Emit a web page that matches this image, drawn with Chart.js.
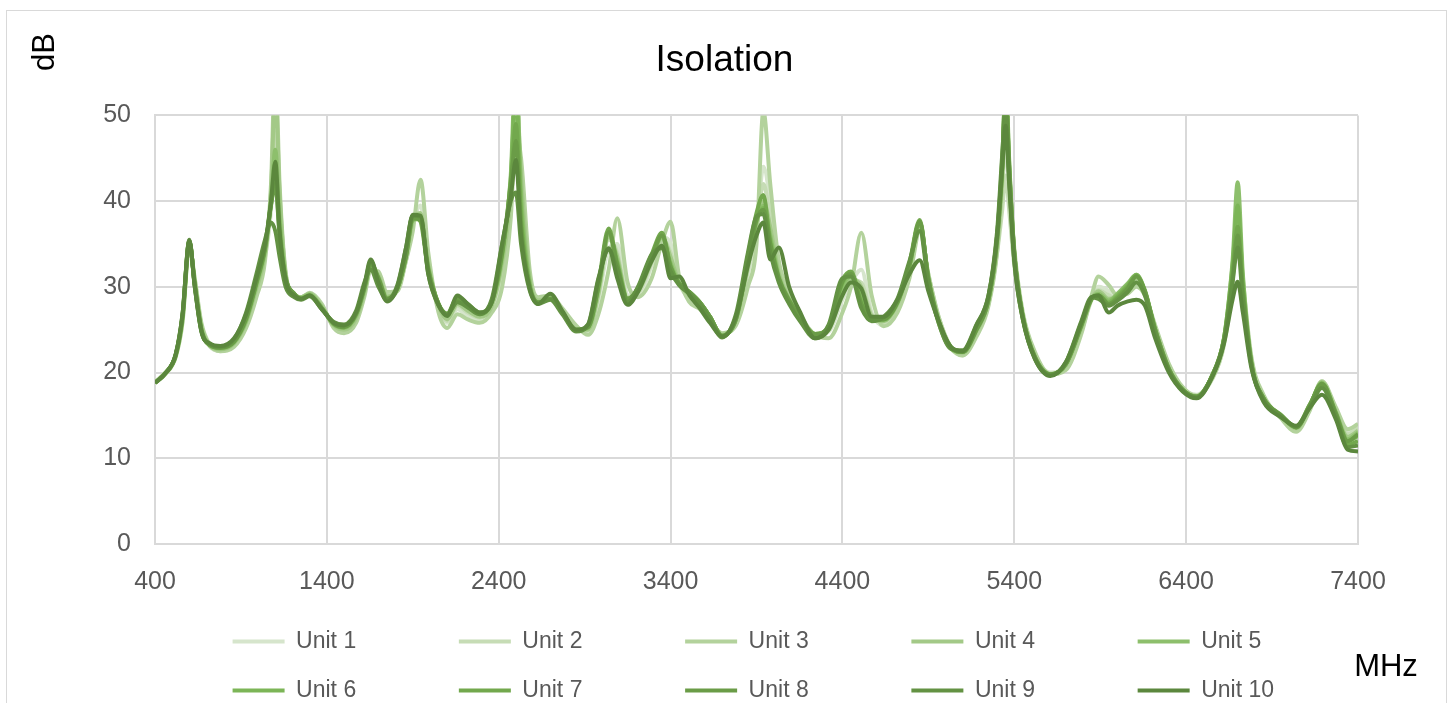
<!DOCTYPE html>
<html>
<head>
<meta charset="utf-8">
<title>Isolation</title>
<script src="https://cdn.jsdelivr.net/npm/chart.js@4.4.1/dist/chart.umd.min.js"></script>
<style>
  html, body { margin: 0; padding: 0; background: #fff; }
  canvas { display: block; }
</style>
</head>
<body>
<canvas id="chart-isolation" width="1449" height="703"></canvas>
<script>
// frequency points (MHz), shared by every unit
var freqs = [
    400, 460, 520, 560, 600, 630, 670, 720, 780, 860,
    930, 990, 1040, 1075, 1100, 1125, 1160, 1210, 1250, 1300,
    1370, 1440, 1500, 1570, 1620, 1655, 1700, 1750, 1810, 1860,
    1900, 1945, 1990, 2050, 2100, 2160, 2220, 2290, 2360, 2420,
    2470, 2500, 2530, 2580, 2630, 2700, 2770, 2850, 2920, 2980,
    3040, 3090, 3150, 3210, 3290, 3350, 3400, 3450, 3510, 3570,
    3630, 3700, 3780, 3850, 3900, 3940, 3980, 4030, 4090, 4160,
    4240, 4320, 4400, 4450, 4510, 4570, 4640, 4720, 4790, 4850,
    4900, 4960, 5030, 5100, 5180, 5250, 5300, 5330, 5350, 5370,
    5400, 5450, 5520, 5610, 5700, 5790, 5850, 5890, 5950, 6000,
    6060, 6110, 6160, 6220, 6300, 6380, 6460, 6550, 6620, 6670,
    6700, 6730, 6780, 6850, 6950, 7040, 7120, 7190, 7270, 7340,
    7400
];

var unitNames = ['Unit 1', 'Unit 2', 'Unit 3', 'Unit 4', 'Unit 5', 'Unit 6', 'Unit 7', 'Unit 8', 'Unit 9', 'Unit 10'];
var xTicks = [400, 1400, 2400, 3400, 4400, 5400, 6400, 7400];

// isolation in dB, one array per unit
var unit1 = [
    18.9, 20.0, 22.0, 26.2, 35.0, 30.8, 25.3, 23.0, 22.5, 23.2,
    25.6, 29.5, 33.5, 39.0, 49.0, 40.0, 31.5, 29.0, 28.8, 29.2,
    27.8, 25.4, 24.8, 26.2, 29.4, 32.2, 31.5, 29.0, 29.6, 33.0,
    37.2, 39.5, 33.0, 27.5, 25.8, 27.4, 26.6, 26.2, 27.5, 31.5,
    39.0, 52.0, 42.0, 31.0, 28.5, 28.8, 27.3, 25.4, 24.8, 28.5,
    34.5, 35.0, 29.0, 29.0, 32.5, 35.8, 35.0, 30.5, 28.6, 27.8,
    26.0, 24.6, 25.8, 31.5, 36.5, 44.0, 40.0, 32.0, 29.0, 26.5,
    24.5, 24.8, 28.5, 30.5, 32.0, 27.0, 25.5, 27.8, 31.8, 36.8,
    31.5, 26.5, 23.0, 22.0, 24.5, 28.0, 34.5, 41.0, 47.0, 41.0,
    33.5, 26.5, 22.0, 20.0, 20.5, 24.8, 28.5, 30.0, 29.5, 28.5,
    29.5, 30.5, 29.2, 25.2, 20.8, 18.2, 17.4, 19.4, 23.5, 31.0,
    37.0, 30.0, 21.5, 17.2, 14.8, 13.3, 15.8, 18.8, 15.8, 13.0,
    13.8
];
var unit2 = [
    18.8, 19.8, 21.8, 26.0, 34.8, 31.0, 25.5, 23.1, 22.6, 23.3,
    25.8, 29.8, 34.0, 40.0, 48.0, 39.0, 31.2, 29.2, 28.7, 29.1,
    27.6, 25.5, 25.0, 26.4, 29.6, 32.4, 31.2, 28.8, 29.5, 33.2,
    37.5, 38.5, 32.5, 27.6, 26.0, 27.8, 27.0, 26.4, 27.8, 32.5,
    40.0, 50.0, 40.0, 30.5, 28.3, 28.7, 27.2, 25.2, 24.9, 29.0,
    35.5, 34.0, 28.8, 29.2, 32.8, 35.6, 34.0, 30.6, 28.8, 27.9,
    26.2, 24.4, 26.0, 32.0, 37.0, 42.0, 38.0, 31.8, 28.8, 26.4,
    24.4, 25.0, 29.0, 30.8, 30.5, 26.8, 25.8, 27.9, 32.0, 37.0,
    31.2, 26.2, 22.8, 22.2, 24.6, 28.2, 34.0, 39.0, 43.0, 39.0,
    32.5, 26.2, 22.0, 19.9, 20.6, 25.0, 28.6, 29.6, 29.0, 28.6,
    29.6, 30.8, 29.3, 25.0, 20.6, 18.1, 17.3, 19.5, 23.6, 31.5,
    38.0, 30.0, 21.3, 17.1, 14.9, 13.4, 16.0, 19.0, 15.6, 12.8,
    13.6
];
var unit3 = [
    18.9, 20.0, 21.8, 25.8, 34.8, 31.2, 25.8, 23.2, 22.5, 23.0,
    25.2, 28.8, 33.0, 42.0, 56.0, 42.0, 31.8, 29.0, 28.8, 29.3,
    28.0, 25.2, 24.6, 25.8, 29.0, 32.0, 31.8, 29.4, 29.5, 33.0,
    36.5, 42.5, 34.0, 27.0, 25.2, 26.8, 26.2, 25.8, 27.0, 30.0,
    38.0, 48.0, 45.0, 32.0, 28.8, 29.0, 27.5, 25.5, 24.4, 26.8,
    32.0, 38.0, 30.5, 28.8, 31.0, 35.2, 37.6, 31.2, 28.2, 27.4,
    25.8, 24.6, 25.5, 30.0, 35.0, 50.5, 42.0, 33.0, 29.5, 26.5,
    24.4, 24.0, 27.0, 30.0, 36.3, 29.0, 25.4, 27.0, 31.0, 36.4,
    31.5, 26.5, 23.0, 22.0, 24.2, 27.8, 34.0, 42.0, 50.0, 43.0,
    34.5, 27.0, 22.4, 19.8, 20.3, 24.5, 29.0, 31.2, 30.2, 29.0,
    29.2, 30.0, 29.0, 25.5, 21.0, 18.3, 17.3, 19.2, 23.2, 30.5,
    38.5, 31.0, 21.8, 17.4, 14.7, 13.1, 15.6, 19.0, 16.0, 13.4,
    14.0
];
var unit4 = [
    18.8, 19.9, 21.9, 26.2, 35.0, 30.8, 25.4, 23.1, 22.7, 23.4,
    25.9, 29.8, 33.8, 41.0, 53.0, 41.0, 31.5, 29.1, 28.8, 29.2,
    27.7, 25.5, 25.0, 26.3, 29.5, 32.3, 31.3, 28.9, 29.7, 33.4,
    37.6, 38.6, 32.6, 27.8, 26.2, 28.0, 27.2, 26.5, 27.8, 32.8,
    41.0, 54.0, 43.0, 31.0, 28.4, 28.7, 27.1, 25.1, 25.0, 29.2,
    35.8, 33.5, 28.6, 29.4, 33.0, 35.8, 33.5, 30.5, 29.0, 28.0,
    26.3, 24.4, 26.1, 32.3, 37.4, 40.0, 37.0, 31.6, 28.6, 26.3,
    24.5, 25.0, 29.5, 31.0, 30.0, 26.6, 26.0, 28.0, 32.2, 37.2,
    31.1, 26.1, 22.9, 22.3, 24.8, 28.3, 35.0, 43.0, 52.0, 43.0,
    33.8, 26.4, 21.9, 19.8, 20.8, 25.2, 28.6, 29.5, 28.6, 28.7,
    29.8, 31.0, 29.4, 25.0, 20.5, 18.0, 17.2, 19.5, 23.7, 31.5,
    38.0, 30.0, 21.2, 17.0, 15.0, 13.5, 16.0, 18.9, 15.5, 12.5,
    13.2
];
var unit5 = [
    18.8, 19.9, 22.0, 26.4, 35.2, 30.6, 25.1, 23.2, 22.8, 23.5,
    26.0, 30.2, 34.2, 40.0, 46.0, 38.0, 31.2, 29.2, 28.7, 29.1,
    27.6, 25.6, 25.2, 26.6, 29.8, 32.5, 31.1, 28.7, 29.8, 33.6,
    37.8, 38.0, 32.3, 28.0, 26.6, 28.4, 27.6, 26.8, 28.2, 33.5,
    43.0, 56.0, 41.0, 30.5, 28.2, 28.6, 27.0, 25.0, 25.2, 29.8,
    36.2, 33.0, 28.6, 29.6, 33.3, 35.8, 32.8, 30.4, 29.3, 28.2,
    26.5, 24.3, 26.2, 32.8, 37.6, 39.5, 36.0, 31.2, 28.5, 26.2,
    24.5, 25.2, 30.0, 31.2, 29.0, 26.4, 26.1, 28.1, 32.4, 37.4,
    31.0, 26.0, 23.0, 22.4, 25.0, 28.5, 35.5, 44.0, 55.0, 45.0,
    34.0, 26.5, 21.8, 19.8, 21.0, 25.4, 28.6, 29.2, 28.4, 29.2,
    30.4, 31.4, 29.6, 25.0, 20.4, 18.0, 17.2, 19.6, 24.0, 33.0,
    42.2, 31.5, 21.2, 17.0, 15.0, 13.6, 16.2, 18.8, 15.4, 12.2,
    13.0
];
var unit6 = [
    18.8, 19.9, 22.0, 26.5, 35.3, 30.5, 25.0, 23.2, 22.9, 23.6,
    26.2, 30.4, 34.4, 39.8, 43.5, 37.0, 31.0, 29.2, 28.6, 29.0,
    27.5, 25.7, 25.3, 26.8, 30.0, 32.8, 31.0, 28.6, 29.8, 33.5,
    37.9, 37.8, 32.1, 28.0, 26.8, 28.6, 27.8, 26.9, 28.3, 33.8,
    42.5, 53.0, 39.0, 30.2, 28.2, 28.6, 27.0, 25.0, 25.3, 30.0,
    36.4, 32.8, 28.6, 29.8, 33.5, 36.0, 32.5, 30.4, 29.4, 28.2,
    26.5, 24.3, 26.2, 33.0, 37.8, 39.2, 35.5, 31.0, 28.4, 26.2,
    24.5, 25.3, 30.4, 31.5, 28.4, 26.3, 26.2, 28.2, 32.5, 37.6,
    31.0, 26.0, 23.0, 22.4, 25.0, 28.5, 35.5, 44.0, 54.0, 44.5,
    34.0, 26.5, 21.8, 19.8, 21.0, 25.5, 28.6, 29.0, 28.2, 29.0,
    30.2, 31.4, 29.5, 25.0, 20.4, 18.0, 17.2, 19.6, 24.0, 32.5,
    39.5, 30.5, 21.0, 17.0, 15.0, 13.6, 16.2, 18.7, 15.3, 12.0,
    12.6
];
var unit7 = [
    18.8, 19.9, 22.0, 26.6, 35.4, 30.4, 24.9, 23.2, 22.9, 23.7,
    26.4, 30.6, 34.6, 39.6, 42.5, 36.2, 31.0, 29.2, 28.6, 29.0,
    27.5, 25.8, 25.4, 26.9, 30.2, 33.0, 30.8, 28.4, 29.8, 33.8,
    38.3, 37.6, 31.8, 28.0, 26.9, 28.8, 28.0, 27.0, 28.4, 34.2,
    41.5, 49.0, 37.5, 30.0, 28.1, 28.6, 27.0, 24.9, 25.4, 30.4,
    36.8, 32.4, 28.5, 29.9, 33.8, 36.3, 32.3, 30.3, 29.4, 28.2,
    26.5, 24.2, 26.4, 33.6, 38.6, 40.7, 35.0, 30.8, 28.2, 26.0,
    24.2, 25.4, 30.8, 31.8, 28.0, 26.1, 26.3, 28.3, 32.8, 37.8,
    30.8, 25.8, 22.8, 22.4, 25.2, 28.8, 36.0, 45.0, 53.0, 44.0,
    33.8, 26.4, 21.7, 19.7, 21.0, 25.6, 28.7, 29.0, 28.0, 28.8,
    30.0, 31.3, 29.4, 24.8, 20.3, 17.9, 17.1, 19.6, 23.9, 31.5,
    37.0, 29.8, 21.0, 17.0, 15.1, 13.7, 16.3, 18.6, 15.2, 11.6,
    12.0
];
var unit8 = [
    18.8, 19.9, 22.0, 26.5, 35.3, 30.5, 25.0, 23.2, 22.9, 23.6,
    26.3, 30.5, 34.5, 39.5, 42.0, 36.0, 31.0, 29.2, 28.6, 29.0,
    27.5, 25.7, 25.3, 26.8, 30.0, 32.6, 31.0, 28.6, 29.8, 33.5,
    38.0, 37.8, 32.0, 28.0, 26.8, 28.6, 27.8, 26.9, 28.3, 34.0,
    42.0, 47.0, 37.0, 30.0, 28.2, 28.6, 27.0, 25.0, 25.3, 30.0,
    36.4, 32.5, 28.6, 29.8, 33.5, 36.0, 32.3, 30.4, 29.4, 28.2,
    26.5, 24.3, 26.2, 33.0, 37.8, 39.0, 35.0, 31.0, 28.4, 26.2,
    24.5, 25.4, 30.6, 31.5, 28.0, 26.2, 26.2, 28.2, 32.5, 37.6,
    31.0, 26.0, 23.0, 22.4, 25.0, 28.5, 35.5, 44.0, 53.0, 44.0,
    34.0, 26.5, 21.8, 19.8, 21.0, 25.5, 28.6, 29.0, 28.0, 28.6,
    29.8, 31.2, 29.5, 25.0, 20.4, 18.0, 17.2, 19.6, 23.8, 31.0,
    36.0, 29.5, 21.0, 17.0, 15.0, 13.6, 16.2, 18.7, 15.3, 12.0,
    12.8
];
var unit9 = [
    18.8, 19.9, 22.1, 26.8, 35.5, 30.2, 24.8, 23.3, 23.0, 23.9,
    27.0, 31.5, 35.5, 37.5, 36.5, 33.5, 30.0, 28.8, 28.5, 28.9,
    27.4, 25.9, 25.6, 27.2, 30.6, 32.0, 30.0, 28.5, 30.2, 34.5,
    38.3, 38.2, 31.5, 27.8, 26.8, 28.2, 27.6, 26.8, 28.6, 35.0,
    40.0, 41.0, 35.0, 29.6, 28.0, 28.5, 26.8, 24.8, 25.6, 31.0,
    34.3, 32.0, 28.2, 30.0, 33.8, 34.5, 31.8, 30.2, 29.2, 28.0,
    26.2, 24.1, 26.8, 34.0, 38.2, 38.5, 34.0, 30.5, 28.0, 25.8,
    24.0, 25.6, 31.0, 31.2, 27.5, 26.0, 26.5, 28.6, 33.0, 36.5,
    30.5, 25.8, 22.8, 22.6, 25.6, 29.0, 36.5, 45.5, 51.0, 43.0,
    33.0, 26.2, 21.6, 19.7, 21.2, 26.0, 28.8, 28.6, 27.8, 28.4,
    29.4, 30.5, 29.0, 24.6, 20.2, 17.9, 17.1, 19.5, 23.6, 30.5,
    34.6, 28.5, 20.8, 16.8, 15.0, 13.7, 16.0, 18.2, 15.0, 11.3,
    11.5
];
var unit10 = [
    18.8, 19.9, 22.1, 26.8, 35.4, 30.3, 24.8, 23.4, 23.1, 24.0,
    26.8, 31.0, 35.0, 40.0, 44.6, 36.5, 30.8, 29.0, 28.6, 29.0,
    27.4, 25.8, 25.5, 27.0, 30.4, 33.2, 30.5, 28.3, 30.0, 34.5,
    38.4, 38.3, 31.5, 27.9, 26.6, 29.0, 28.0, 27.0, 28.2, 35.0,
    40.5, 44.8, 36.0, 29.8, 28.0, 29.2, 27.2, 25.0, 25.6, 30.8,
    34.5, 31.0, 27.9, 29.4, 33.0, 34.8, 31.0, 31.2, 29.0, 27.5,
    25.8, 24.2, 26.5, 32.5, 36.0, 37.5, 33.2, 34.6, 30.0, 26.8,
    24.0, 25.0, 29.0, 30.5, 29.8, 26.5, 26.5, 28.5, 31.5, 33.1,
    29.5, 26.0, 23.0, 22.5, 25.5, 29.0, 36.0, 44.0, 48.8, 42.0,
    33.0, 26.2, 21.6, 19.6, 21.2, 25.8, 28.8, 29.0, 27.0, 27.8,
    28.3, 28.5, 27.8, 24.0, 20.0, 17.8, 17.0, 19.4, 23.4, 28.5,
    30.6, 27.0, 20.5, 16.6, 14.8, 13.8, 15.9, 17.4, 14.6, 11.0,
    10.8
];

var unitValues = [unit1, unit2, unit3, unit4, unit5, unit6, unit7, unit8, unit9, unit10];
var unitColors = ['#d6e5cc', '#c6dcb5', '#b3d29c', '#a3c987', '#8dbf6c',
                  '#7cb557', '#72a84d', '#6a9c47', '#639243', '#5b873d'];

Chart.defaults.font.family = '"Liberation Sans", Arial, sans-serif';

var datasets = unitNames.map(function(name, i) {
    return {
        label: name,
        data: freqs.map(function(f, k) { return { x: f, y: unitValues[i][k] }; }),
        borderColor: unitColors[i],
        backgroundColor: unitColors[i],
        borderWidth: 4,
        pointRadius: 0,
        pointHoverRadius: 0,
        cubicInterpolationMode: 'monotone',
        order: unitNames.length - 1 - i   // Unit 10 painted last
    };
});

// chart frame and the two axis titles placed like the original
var decorations = {
    id: 'decorations',
    beforeDraw: function(chart) {
        var ctx = chart.ctx;
        ctx.save();
        ctx.strokeStyle = '#d9d9d9';
        ctx.lineWidth = 1;
        ctx.strokeRect(6.5, 10.5, 1440, 700);
        ctx.restore();
    },
    afterDraw: function(chart) {
        var ctx = chart.ctx;
        ctx.save();
        ctx.fillStyle = '#000';
        ctx.font = '31px "Liberation Sans", Arial, sans-serif';
        ctx.textAlign = 'center';
        ctx.textBaseline = 'middle';
        ctx.translate(45, 52);
        ctx.rotate(-Math.PI / 2);
        ctx.fillText('dB', 0, 0);
        ctx.restore();
        ctx.save();
        ctx.fillStyle = '#000';
        ctx.font = '31px "Liberation Sans", Arial, sans-serif';
        ctx.textAlign = 'center';
        ctx.textBaseline = 'middle';
        ctx.fillText('MHz', 1386, 667);
        ctx.restore();
    }
};

var defaultLabels = Chart.defaults.plugins.legend.labels.generateLabels;
var tailSpaces = ['            ', '            ', '            ', '            ', '   ',
                  '            ', '            ', '            ', '            ', ' '];

new Chart(document.getElementById('chart-isolation'), {
    type: 'line',
    data: { datasets: datasets },
    plugins: [decorations],
    options: {
        responsive: false,
        animation: false,
        layout: { padding: 0 },
        plugins: {
            title: {
                display: true,
                text: 'Isolation',
                color: '#000',
                font: { size: 37, weight: 'normal' },
                padding: { top: 39, bottom: 32 }
            },
            legend: {
                position: 'bottom',
                fullSize: false,
                maxHeight: 99,
                labels: {
                    font: { size: 23 },
                    color: '#595959',
                    usePointStyle: true,
                    pointStyle: 'line',
                    pointStyleWidth: 52,
                    padding: 26,
                    sort: function(a, b) { return a.datasetIndex - b.datasetIndex; },
                    generateLabels: function(chart) {
                        return defaultLabels(chart).map(function(item) {
                            item.text = item.text + tailSpaces[item.datasetIndex];
                            return item;
                        });
                    }
                }
            },
            tooltip: { enabled: false }
        },
        scales: {
            x: {
                type: 'linear',
                min: 400,
                max: 7400,
                afterBuildTicks: function(scale) {
                    scale.ticks = xTicks.map(function(v) { return { value: v }; });
                },
                afterFit: function(scale) {
                    scale.height = 60;
                    scale.paddingRight = 91;   // room on the right, title stays centred on the page
                },
                ticks: {
                    font: { size: 25 }, color: '#595959', padding: 23, maxRotation: 0,
                    callback: function(v) { return String(v); }
                },
                grid: { color: '#d9d9d9', lineWidth: 2, drawTicks: false },
                border: { color: '#d9d9d9', width: 2 }
            },
            y: {
                min: 0,
                max: 50,
                afterFit: function(scale) { scale.width = 155; },
                ticks: { stepSize: 10, font: { size: 25 }, color: '#595959', padding: 24 },
                grid: { color: '#d9d9d9', lineWidth: 2, drawTicks: false },
                border: { color: '#d9d9d9', width: 2 }
            }
        }
    }
});
</script>
</body>
</html>
